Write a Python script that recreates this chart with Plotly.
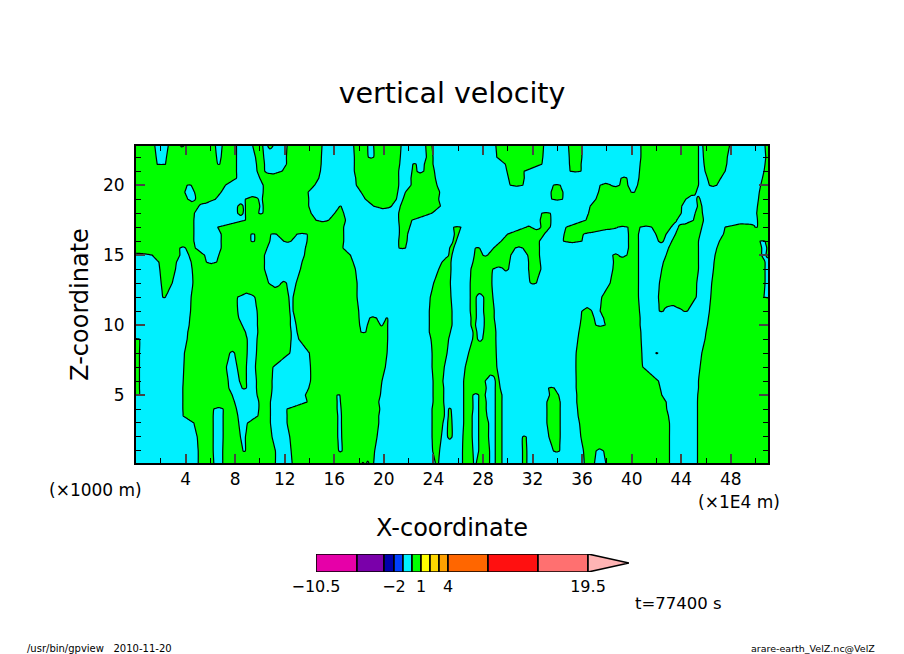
import numpy as np
import plotly.graph_objects as go

# velocity sign-change positions along X (x 1E4 m), one list per Z level
z_levels = [0.14, 1, 2, 3, 3.5, 4, 4.5, 5, 5.5, 6, 7, 8, 9, 9.5, 10, 10.5, 11, 12, 13, 14, 14.5, 15, 15.5,
            16, 16.5, 17, 17.5, 18, 18.5, 19, 19.5, 20, 20.5, 21, 21.5, 22, 22.8]
# 1 when the row starts with upward velocity at X=0
row_starts_up = [0, 0, 0, 0, 0, 0, 0, 1, 1, 1, 1, 1, 1, 0, 0, 0, 0, 0, 0, 0, 0, 0, 1,
                 1, 1, 1, 1, 1, 1, 1, 1, 1, 1, 1, 1, 1, 1]
sign_changes = [
    [5.02, 6.28, 7.0, 11.25, 12.6, 18.25, 18.4, 18.6, 18.8, 19.18, 24.16, 24.42, 26.35, 27.24, 27.46, 28.53, 28.99, 29.53, 31.19, 31.54, 36.17, 37.0, 37.91, 43.05, 45.31],
    [5.02, 6.23, 7.0, 8.64, 8.83, 11.25, 12.52, 16.36, 16.63, 19.26, 23.94, 24.5, 26.35, 27.19, 27.65, 28.53, 28.99, 29.53, 31.19, 31.54, 33.69, 34.18, 36.11, 37.13, 37.73, 43.05, 45.31],
    [4.94, 6.23, 7.03, 8.43, 8.83, 10.98, 12.41, 16.28, 16.6, 19.45, 23.89, 24.64, 25.15, 25.5, 26.38, 27.13, 27.65, 28.45, 28.99, 29.53, 31.19, 31.49, 33.32, 34.23, 35.9, 43.05, 45.31],
    [4.67, 6.23, 7.03, 8.29, 9.0, 10.85, 12.19, 16.28, 16.58, 19.59, 23.89, 24.77, 25.15, 25.5, 26.44, 27.13, 27.65, 28.45, 28.99, 29.53, 33.16, 34.23, 35.79, 43.05, 45.31],
    [3.81, 6.23, 7.03, 8.22, 9.83, 10.85, 12.19, 16.28, 16.58, 19.59, 23.89, 24.88, 25.2, 25.47, 26.44, 27.13, 27.65, 28.32, 28.99, 29.53, 33.16, 34.23, 35.68, 42.97, 45.31],
    [3.78, 6.28, 7.03, 8.11, 9.91, 10.85, 12.19, 16.23, 16.55, 19.67, 23.89, 24.88, 25.23, 25.42, 26.44, 27.19, 27.65, 28.26, 28.99, 29.53, 33.16, 34.23, 35.63, 42.83, 45.31],
    [3.78, 7.95, 9.91, 10.85, 13.8, 16.23, 16.5, 19.59, 23.97, 24.83, 26.44, 27.19, 27.65, 28.26, 28.99, 29.53, 33.16, 34.23, 35.57, 42.78, 45.31],
    [0.28, 3.78, 7.76, 9.77, 10.93, 13.67, 16.23, 16.44, 19.72, 23.97, 24.83, 26.44, 27.19, 27.65, 28.18, 28.99, 29.53, 33.37, 34.1, 35.57, 42.43, 45.33],
    [0.28, 3.78, 7.49, 8.56, 8.91, 9.72, 10.98, 13.94, 19.78, 23.97, 24.83, 26.44, 28.26, 28.99, 29.39, 33.29, 33.75, 35.52, 42.3, 45.39],
    [0.28, 3.81, 7.44, 8.35, 8.91, 9.72, 10.98, 14.08, 19.85, 23.97, 24.77, 26.44, 28.18, 28.99, 29.31, 35.52, 42.16, 45.39],
    [0.28, 3.86, 7.3, 8.16, 8.91, 9.64, 11.06, 14.08, 20.12, 23.89, 24.88, 26.57, 29.12, 35.5, 40.9, 45.52],
    [0.28, 3.91, 7.57, 7.95, 8.97, 9.72, 12.41, 13.99, 20.26, 23.89, 25.1, 26.84, 29.07, 35.52, 40.82, 41.95, 42.11, 45.66],
    [0.28, 4.13, 8.97, 9.77, 12.52, 13.13, 20.31, 23.8, 25.23, 27.16, 27.56, 27.97, 29.04, 35.66, 40.76, 45.92],
    [4.18, 8.83, 9.83, 12.52, 13.0, 18.16, 18.54, 20.31, 23.67, 25.37, 27.19, 27.51, 28.05, 29.04, 35.74, 40.74, 46.0],
    [4.29, 8.56, 9.8, 12.46, 12.92, 18.05, 18.67, 19.72, 19.91, 20.31, 23.67, 25.5, 27.03, 27.4, 28.1, 28.99, 35.84, 37.11, 37.86, 40.68, 46.11],
    [4.34, 8.3, 9.8, 12.46, 12.81, 18.0, 18.86, 19.4, 20.2, 20.31, 23.67, 25.5, 27.03, 27.46, 28.1, 28.91, 35.92, 36.97, 37.73, 40.68, 46.19],
    [4.4, 8.21, 9.77, 12.41, 12.68, 17.97, 23.67, 25.5, 26.97, 27.46, 28.05, 28.91, 35.98, 36.78, 37.46, 40.63, 42.24, 42.56, 44.18, 44.5, 46.27],
    [2.16, 2.38, 4.45, 8.21, 9.59, 12.33, 12.68, 17.84, 23.75, 25.42, 26.97, 27.46, 28.05, 28.8, 37.59, 40.55, 42.16, 45.2, 46.38, 50.68],
    [2.03, 2.92, 4.59, 10.71, 11.71, 12.14, 12.92, 17.84, 24.02, 25.37, 26.97, 28.72, 31.81, 32.3, 38.26, 40.55, 42.24, 45.25, 46.46, 50.76],
    [1.92, 3.19, 4.53, 10.37, 13.27, 17.7, 24.43, 25.42, 27.03, 28.8, 29.66, 30.06, 31.68, 32.67, 38.48, 40.55, 42.43, 45.39, 46.6, 50.76],
    [1.84, 3.27, 4.45, 5.69, 6.5, 10.37, 13.4, 17.52, 24.69, 25.42, 27.19, 30.15, 31.68, 32.62, 38.53, 40.55, 42.56, 45.39, 46.65, 50.76],
    [1.3, 3.54, 4.26, 5.53, 6.68, 10.37, 13.59, 17.3, 25.23, 25.5, 27.3, 28.0, 28.37, 30.25, 31.6, 32.56, 38.48, 38.94, 39.61, 40.55, 42.78, 45.39, 46.73, 50.49, 50.84],
    [3.54, 4.0, 4.8, 6.87, 10.58, 13.67, 16.71, 21.23, 21.74, 25.31, 25.64, 27.38, 27.73, 28.85, 30.6, 31.22, 32.56, 39.74, 40.55, 42.97, 45.39, 46.87, 50.49, 50.9],
    [4.67, 6.87, 9.29, 9.56, 10.8, 11.92, 12.52, 13.8, 16.76, 21.2, 21.87, 25.58, 25.84, 29.47, 32.56, 34.5, 35.98, 39.74, 40.55, 42.16, 42.56, 43.24, 45.39, 47.08, 50.36, 50.76],
    [4.67, 6.87, 9.29, 9.56, 10.9, 11.33, 13.0, 13.8, 16.76, 21.25, 21.92, 25.69, 26.03, 29.98, 32.95, 34.55, 36.11, 39.74, 40.55, 41.95, 42.78, 43.53, 45.52, 47.4],
    [4.67, 6.6, 16.76, 21.25, 22.09, 25.64, 26.22, 31.49, 31.87, 32.67, 33.42, 34.71, 38.88, 39.69, 40.68, 41.62, 43.18, 43.77, 45.66, 47.54, 49.96, 50.14],
    [4.67, 8.83, 14.53, 15.55, 16.9, 21.2, 22.27, 32.62, 33.48, 36.3, 43.64, 44.98, 45.79, 50.15],
    [4.72, 8.21, 8.64, 8.83, 9.91, 10.23, 14.13, 16.04, 16.76, 21.2, 23.89, 32.75, 33.42, 36.52, 44.0, 45.12, 45.71, 50.09],
    [5.07, 8.21, 8.64, 8.83, 9.99, 10.26, 13.94, 16.44, 16.55, 19.18, 20.61, 21.33, 24.56, 36.65, 44.04, 45.31, 45.66, 50.15],
    [4.18, 4.8, 6.41, 8.83, 9.88, 10.2, 13.94, 18.51, 21.01, 21.55, 24.43, 33.56, 34.42, 37.11, 44.37, 45.25, 45.52, 50.23],
    [3.94, 4.72, 6.87, 10.26, 13.89, 18.16, 21.12, 21.74, 24.5, 33.5, 34.45, 37.32, 39.96, 40.23, 45.2, 50.3],
    [4.13, 4.45, 7.22, 10.26, 14.42, 17.78, 21.2, 22.19, 24.29, 30.2, 31.22, 33.69, 34.23, 37.46, 38.32, 39.02, 39.69, 40.47, 45.39, 46.27, 46.87, 50.41],
    [8.11, 9.99, 14.75, 17.73, 21.2, 22.19, 24.16, 30.06, 31.33, 39.15, 39.61, 40.58, 45.39, 46.11, 47.19, 50.55],
    [8.11, 9.77, 10.39, 11.79, 14.88, 17.62, 21.2, 22.27, 22.68, 23.22, 24.08, 29.93, 31.33, 35.04, 35.9, 40.63, 45.39, 45.92, 47.54, 50.68],
    [1.71, 2.38, 6.6, 6.76, 8.11, 9.72, 10.37, 12.14, 14.94, 17.62, 21.28, 22.35, 22.6, 23.27, 23.97, 29.8, 32.75, 34.98, 35.92, 40.68, 45.39, 45.84, 47.67, 50.76],
    [1.63, 2.46, 6.5, 6.87, 8.11, 9.64, 10.31, 12.14, 14.96, 17.62, 18.75, 19.18, 21.33, 23.43, 23.97, 29.12, 32.83, 34.96, 35.98, 40.74, 45.39, 45.79, 47.72, 50.82],
    [1.52, 2.6, 3.59, 3.86, 6.41, 6.95, 8.11, 9.42, 10.23, 10.63, 11.06, 12.19, 15.01, 17.57, 18.7, 19.18, 21.39, 23.38, 23.89, 29.04, 32.89, 34.9, 35.98, 40.74, 45.39, 45.74, 47.89, 50.76],
]

x_ticks = [4, 8, 12, 16, 20, 24, 28, 32, 36, 40, 44, 48]
z_ticks = [5, 10, 15, 20]

# colour bar boxes, widths as drawn
bar_widths = [41, 27, 10, 9, 9, 9, 9, 9, 9, 40, 50, 50]
bar_colors = ["#E600A8", "#7A00AA", "#0000AA", "#0040FF", "#00F0FF", "#00FF00", "#FFFF00",
              "#FFD700", "#FFA000", "#FF6600", "#FF1010", "#FF7070"]
arrow_color = "#FFB4B4"
bar_labels = ["\u221210.5", "\u22122", "1", "4", "19.5"]

FONT = "DejaVu Sans"
W, H = 904, 654

x_grid = np.arange(0, 51.01, 0.1)


def row_field(changes, starts_up):
    changes = np.array(changes)
    dist = np.abs(x_grid[:, None] - changes[None, :]).min(axis=1)
    flips = np.searchsorted(changes, x_grid)
    sign = np.where((flips % 2 == 0) == bool(starts_up), 1.0, -1.0)
    return sign * dist / 51.0


w = np.array([row_field(c, s) for c, s in zip(sign_changes, row_starts_up)])

fig = go.Figure()

fig.add_trace(go.Contour(
    x=x_grid, y=z_levels, z=w,
    zmin=-1, zmax=1,
    contours=dict(coloring="fill", start=0, end=0, size=1),
    colorscale=[[0, "#00F0FF"], [0.5, "#00F0FF"], [0.5, "#00FF00"], [1, "#00FF00"]],
    line=dict(color="black", width=1.2, smoothing=0.8),
    showscale=False,
    hoverinfo="skip",
))

edges = np.concatenate([[0], np.cumsum(bar_widths)])
fig.add_trace(go.Bar(
    x=bar_widths, base=edges[:-1], y=[0.5] * len(bar_widths),
    orientation="h", width=1,
    marker=dict(color=bar_colors, line=dict(color="black", width=1.6)),
    xaxis="x2", yaxis="y2", showlegend=False, hoverinfo="skip",
))
fig.add_trace(go.Scatter(
    x=[edges[-1], edges[-1] + 41, edges[-1], edges[-1]], y=[1, 0.5, 0, 1],
    mode="lines", fill="toself", fillcolor=arrow_color,
    line=dict(color="black", width=1.6),
    xaxis="x2", yaxis="y2", showlegend=False, hoverinfo="skip",
))

fig.update_layout(
    width=W, height=H,
    margin=dict(l=0, r=0, t=0, b=0),
    paper_bgcolor="white", plot_bgcolor="white",
    font=dict(family=FONT, color="black", size=17),
    title=dict(text="vertical velocity", x=0.5, xanchor="center", y=1 - 93 / H, yanchor="middle",
               font=dict(size=28.5)),
    xaxis=dict(
        domain=[136 / W, 768 / W], range=[0, 51], anchor="y",
        tickvals=x_ticks, ticks="inside", ticklen=9, tickwidth=2, mirror="ticks",
        showline=True, linewidth=2, linecolor="black", showgrid=False, zeroline=False,
        minor=dict(dtick=2, tick0=0, ticks="inside", ticklen=5, tickwidth=1, tickcolor="black", showgrid=False),
        title=dict(text="X-coordinate", font=dict(size=24), standoff=31),
        automargin=False,
    ),
    yaxis=dict(
        domain=[(H - 463) / H, (H - 146) / H], range=[0.14, 22.8], anchor="x",
        tickvals=z_ticks, ticks="inside", ticklen=9, tickwidth=2, mirror="ticks",
        showline=True, linewidth=2, linecolor="black", showgrid=False, zeroline=False,
        minor=dict(dtick=1, tick0=0, ticks="inside", ticklen=5, tickwidth=1, tickcolor="black", showgrid=False),
        ticklabelstandoff=6,
        title=dict(text="Z-coordinate", font=dict(size=24), standoff=8),
        automargin=False,
    ),
    xaxis2=dict(
        domain=[316 / W, 629 / W], range=[0, int(edges[-1]) + 41], anchor="y2",
        tickvals=[edges[i] for i in [0, 3, 6, 9, 12]], ticktext=bar_labels,
        ticks="", showgrid=False, zeroline=False, showline=False,
        tickfont=dict(size=16), ticklabelstandoff=3, automargin=False,
    ),
    yaxis2=dict(
        domain=[(H - 572) / H, (H - 554) / H], range=[0, 1], anchor="x2",
        visible=False,
    ),
    annotations=[
        dict(text="(\u00d71000 m)", xref="paper", yref="paper", x=95 / W, y=1 - 490 / H, showarrow=False,
             xanchor="center", yanchor="middle", font=dict(size=17)),
        dict(text="(\u00d71E4 m)", xref="paper", yref="paper", x=739 / W, y=1 - 502 / H, showarrow=False,
             xanchor="center", yanchor="middle", font=dict(size=17)),
        dict(text="t=77400 s", xref="paper", yref="paper", x=678 / W, y=1 - 603 / H, showarrow=False,
             xanchor="center", yanchor="middle", font=dict(size=16.5)),
        dict(text="/usr/bin/gpview   2010-11-20", xref="paper", yref="paper", x=25 / W, y=1 - 648 / H,
             showarrow=False, xanchor="left", yanchor="middle", font=dict(size=10)),
        dict(text="arare-earth_VelZ.nc@VelZ", xref="paper", yref="paper", x=877 / W, y=1 - 648 / H,
             showarrow=False, xanchor="right", yanchor="middle", font=dict(size=9.5)),
    ],
)

fig.write_html("out.html", config={"displayModeBar": False}, post_script="document.body.style.margin='0';")
